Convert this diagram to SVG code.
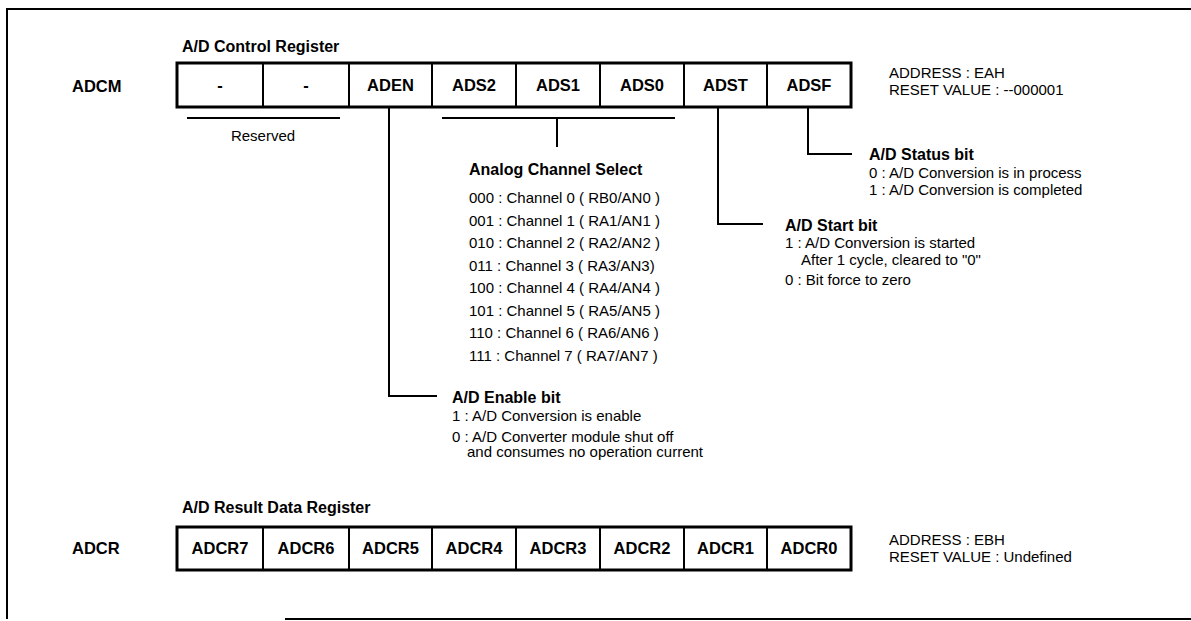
<svg xmlns="http://www.w3.org/2000/svg" width="1191" height="621" viewBox="0 0 1191 621">
<style>
text{font-family:"Liberation Sans",Arial,sans-serif;fill:#000}
.b{font-weight:bold;font-size:16px}
.r{font-size:15px}
.reg{font-weight:bold;font-size:16.5px;text-anchor:middle}
.lbl{font-weight:bold;font-size:16.5px}
.box{fill:#fff;stroke:#000;stroke-width:3}
.div{stroke:#000;stroke-width:2}
.ln{fill:none;stroke:#000;stroke-width:2}
</style>
<rect width="1191" height="621" fill="#fff"/>
<g id="frame">
<path d="M7,619 V9 H1191" class="ln"/>
<path d="M285,619 H1191" class="ln"/>
</g>
<g id="adcm">
<text class="b" x="182" y="52">A/D Control Register</text>
<text class="lbl" x="72" y="92">ADCM</text>
<rect class="box" x="177" y="63" width="674" height="44"/>
<path class="div" d="M263,63V107M349,63V107M432,63V107M516,63V107M600,63V107M684,63V107M767,63V107"/>
<text class="reg" x="220" y="91">-</text>
<text class="reg" x="306" y="91">-</text>
<text class="reg" x="390.5" y="91">ADEN</text>
<text class="reg" x="474" y="91">ADS2</text>
<text class="reg" x="558" y="91">ADS1</text>
<text class="reg" x="642" y="91">ADS0</text>
<text class="reg" x="725.5" y="91">ADST</text>
<text class="reg" x="809" y="91">ADSF</text>
<text class="r" x="889" y="78">ADDRESS : EAH</text>
<text class="r" x="889" y="95">RESET VALUE : --000001</text>
</g>
<g id="reserved">
<text class="r" x="263" y="141" text-anchor="middle">Reserved</text>
</g>
<g id="adsf-desc">
<text class="b" x="869" y="160">A/D Status bit</text>
<text class="r" x="869" y="178">0 : A/D Conversion is in process</text>
<text class="r" x="869" y="195">1 : A/D Conversion is completed</text>
</g>
<g id="adst-desc">
<text class="b" x="785" y="231">A/D Start bit</text>
<text class="r" x="785" y="248">1 : A/D Conversion is started</text>
<text class="r" x="801" y="265">After 1 cycle, cleared to "0"</text>
<text class="r" x="785" y="285">0 : Bit force to zero</text>
</g>
<g id="ads-desc">
<text class="b" x="469" y="175">Analog Channel Select</text>
<text class="r" x="469" y="203">000 : Channel 0 ( RB0/AN0 )</text>
<text class="r" x="469" y="225.5">001 : Channel 1 ( RA1/AN1 )</text>
<text class="r" x="469" y="248">010 : Channel 2 ( RA2/AN2 )</text>
<text class="r" x="469" y="270.5">011 : Channel 3 ( RA3/AN3)</text>
<text class="r" x="469" y="293">100 : Channel 4 ( RA4/AN4 )</text>
<text class="r" x="469" y="315.5">101 : Channel 5 ( RA5/AN5 )</text>
<text class="r" x="469" y="338">110 : Channel 6 ( RA6/AN6 )</text>
<text class="r" x="469" y="360.5">111 : Channel 7 ( RA7/AN7 )</text>
</g>
<g id="aden-desc">
<text class="b" x="452" y="403">A/D Enable bit</text>
<text class="r" x="452" y="421">1 : A/D Conversion is enable</text>
<text class="r" x="452" y="442">0 : A/D Converter module shut off</text>
<text class="r" x="467" y="457">and consumes no operation current</text>
</g>
<g id="adcr">
<text class="b" x="182" y="513">A/D Result Data Register</text>
<text class="lbl" x="72" y="554">ADCR</text>
<rect class="box" x="177" y="527" width="674" height="43"/>
<path class="div" d="M263,527V570M349,527V570M432,527V570M516,527V570M600,527V570M684,527V570M767,527V570"/>
<text class="reg" x="220" y="554">ADCR7</text>
<text class="reg" x="306" y="554">ADCR6</text>
<text class="reg" x="390.5" y="554">ADCR5</text>
<text class="reg" x="474" y="554">ADCR4</text>
<text class="reg" x="558" y="554">ADCR3</text>
<text class="reg" x="642" y="554">ADCR2</text>
<text class="reg" x="725.5" y="554">ADCR1</text>
<text class="reg" x="809" y="554">ADCR0</text>
<text class="r" x="889" y="545">ADDRESS : EBH</text>
<text class="r" x="889" y="562">RESET VALUE : Undefined</text>
</g>
<g id="connectors">
<path class="ln" d="M187,118H340"/>
<path class="ln" d="M442,118H675M557,118V147"/>
<path class="ln" d="M389,107V396H437"/>
<path class="ln" d="M718,107V224H763"/>
<path class="ln" d="M808,107V154H852"/>
</g>
</svg>
